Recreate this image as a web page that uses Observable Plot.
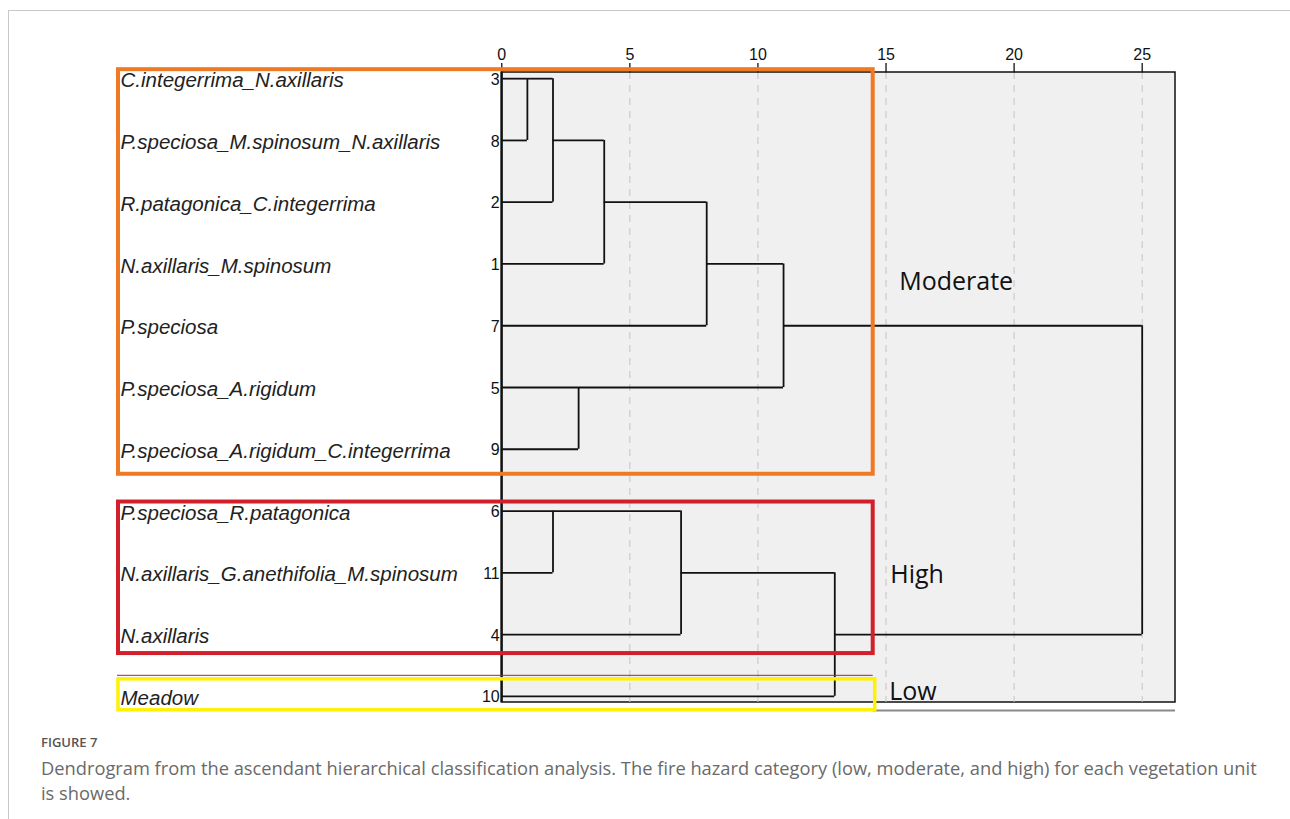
<!DOCTYPE html>
<html>
<head>
<meta charset="utf-8">
<script src="https://cdn.jsdelivr.net/npm/d3@7"></script>
<script src="https://cdn.jsdelivr.net/npm/@observablehq/plot@0.6"></script>
<style>
  html, body { margin: 0; padding: 0; background: #fff; }
  body { width: 1290px; height: 819px; position: relative; overflow: hidden; }
  #frame { position: absolute; left: 8px; top: 10px; width: 1290px; height: 820px;
           border-left: 1px solid #c8c8c8; border-top: 1px solid #c8c8c8; }
  #chart { position: absolute; left: 0; top: 0; }
  #fig { position: absolute; left: 41px; top: 733px; font-family: "Open Sans", sans-serif;
         font-size: 13px; font-weight: 600; color: #555; }
  #cap { position: absolute; left: 41px; top: 755px; width: 1245px; font-family: "Open Sans", sans-serif;
         font-size: 18.3px; line-height: 25px; color: #6a6a6a; font-weight: 400; white-space: nowrap; }
</style>
</head>
<body>
<div id="frame"></div>
<div id="chart"></div>
<div id="fig">FIGURE 7</div>
<div id="cap">Dendrogram from the ascendant hierarchical classification analysis. The fire hazard category (low, moderate, and high) for each vegetation unit<br>is showed.</div>
<script>
// ---- data ----
const leafIds = [3, 8, 2, 1, 7, 5, 9, 6, 11, 4, 10];
const leafNames = [
  "C.integerrima_N.axillaris",
  "P.speciosa_M.spinosum_N.axillaris",
  "R.patagonica_C.integerrima",
  "N.axillaris_M.spinosum",
  "P.speciosa",
  "P.speciosa_A.rigidum",
  "P.speciosa_A.rigidum_C.integerrima",
  "P.speciosa_R.patagonica",
  "N.axillaris_G.anethifolia_M.spinosum",
  "N.axillaris",
  "Meadow"
];
// merges: "L#" = leaf id, "M#" = earlier merge index
const mergeLeft  = ["L3", "M0", "M1", "M2", "L5", "M3", "L6",  "M6", "M7",  "M5"];
const mergeRight = ["L8", "L2", "L1", "L7", "L9", "M4", "L11", "L4", "L10", "M8"];
const mergeDistance = [1, 2, 4, 8, 3, 11, 2, 7, 13, 25];
const axisTicks = [0, 5, 10, 15, 20, 25];
const groupNames = ["Moderate", "High", "Low"];
const groupFirstRow = [0, 7, 10];
const groupLastRow = [6, 9, 10];
const cutoff = 14.5;

// ---- build geometry through the data ----
const nodes = {};
leafIds.forEach((id, i) => { nodes["L" + id] = {x: 0, y: i}; });
const hSegs = [], vSegs = [];
mergeDistance.forEach((h, i) => {
  const a = nodes[mergeLeft[i]], b = nodes[mergeRight[i]];
  hSegs.push({x1: a.x, x2: h, y: a.y});
  hSegs.push({x1: b.x, x2: h, y: b.y});
  vSegs.push({x: h, y1: a.y, y2: b.y});
  nodes["M" + i] = {x: h, y: Math.floor((a.y + b.y) / 2)};
});
const leaves = leafIds.map((id, i) => ({id, name: leafNames[i], row: i}));
const groups = groupNames.map((g, i) => ({name: g, first: groupFirstRow[i], last: groupLastRow[i]}));

const xMin = -15, xMax = 26.3, yMin = -0.1, yMax = 10.1;
const groupStyle = {
  Moderate: {stroke: "#f07a24", width: 4, top: -9, bottom: -25, dy: 18, dx: 26, right: 0},
  High:     {stroke: "#d21f2c", width: 4, top: -9, bottom: -19, dy: 2, dx: 17, right: 0},
  Low:      {stroke: "#fff200", width: 3.5, top: -17, bottom: -14, dy: -4, dx: 16, right: -2}
};

const narrow = "'Liberation Sans Narrow', 'Arial Narrow', 'Liberation Sans', sans-serif";

const groupMarks = groups.flatMap(g => {
  const s = groupStyle[g.name];
  return [
    Plot.rect([g], {x1: () => xMin, x2: () => cutoff, y1: "first", y2: "last",
      insetTop: s.top, insetBottom: s.bottom, insetLeft: 1, insetRight: s.right,
      fill: "none", stroke: s.stroke, strokeWidth: s.width}),
    Plot.text([g], {x: () => cutoff, y: d => (d.first + d.last) / 2, text: "name",
      textAnchor: "start", dx: s.dx, dy: s.dy, fontSize: 25, fill: "#111",
      fontFamily: "'Open Sans', sans-serif"})
  ];
});

const chart = Plot.plot({
  width: 1290,
  height: 720,
  marginLeft: 117,
  marginRight: 115,
  marginTop: 72,
  marginBottom: 18,
  style: {background: "transparent", overflow: "visible"},
  x: {domain: [xMin, xMax]},
  y: {domain: [yMin, yMax], reverse: true, axis: null},
  marks: [
    // plot background / frame
    Plot.rect([{}], {x1: () => 0, x2: () => xMax, y1: () => yMin, y2: () => yMax,
      fill: "#f0f0f0", stroke: "#111", strokeWidth: 1.5}),
    // dashed grid
    Plot.ruleX(axisTicks.filter(t => t > 0), {y1: () => yMin, y2: () => yMax,
      stroke: "#c4c4c4", strokeDasharray: "7,6", strokeWidth: 1}),
    // top axis
    Plot.axisX(axisTicks, {anchor: "top", tickSize: 10, tickPadding: 3, fontSize: 16,
      fontFamily: narrow, stroke: "#111", strokeWidth: 1.3, fill: "#111", label: null}),
    // vertical axis line at 0
    Plot.ruleX([0], {y1: () => yMin, y2: () => yMax, stroke: "#111", strokeWidth: 2.2}),
    // dendrogram
    Plot.ruleY(hSegs, {x1: "x1", x2: "x2", y: "y", stroke: "#111", strokeWidth: 1.8}),
    Plot.ruleX(vSegs, {x: "x", y1: "y1", y2: "y2", stroke: "#111", strokeWidth: 1.8}),
    // leaf labels
    Plot.text(leaves, {x: () => xMin, y: "row", text: "name", textAnchor: "start", dx: 3, dy: 2,
      fontSize: 20.5, fontStyle: "italic", fill: "#222",
      fontFamily: "'Liberation Sans', Arial, sans-serif"}),
    Plot.text(leaves, {x: () => 0, y: "row", text: d => String(d.id), textAnchor: "end", dx: -2, dy: 1,
      fontSize: 16, fill: "#111", fontFamily: narrow}),
    // grey shadow line under the frame
    Plot.ruleY([yMax], {x1: () => cutoff, x2: () => xMax, dy: 8, stroke: "#8a8a8a", strokeWidth: 2}),
    // thin dark line above the Low box
    Plot.ruleY([groupFirstRow[2]], {x1: () => xMin, x2: () => cutoff, dy: -21, stroke: "#9a2a3a", strokeWidth: 1}),
    ...groupMarks
  ]
});
document.getElementById("chart").appendChild(chart);
</script>
</body>
</html>
